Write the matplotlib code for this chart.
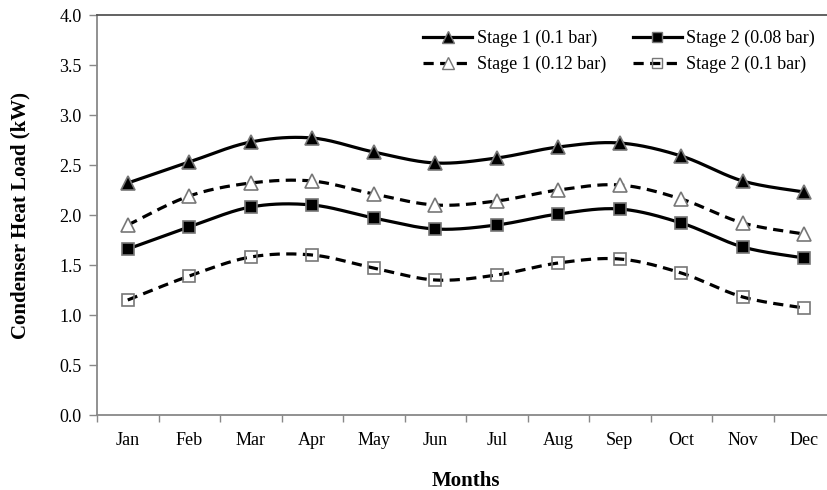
import numpy as np
import matplotlib
matplotlib.use("Agg")
import matplotlib.pyplot as plt

months = ["Jan", "Feb", "Mar", "Apr", "May", "Jun", "Jul", "Aug", "Sep", "Oct", "Nov", "Dec"]
stage1_01 = [2.32, 2.53, 2.73, 2.77, 2.63, 2.52, 2.57, 2.68, 2.72, 2.59, 2.34, 2.23]
stage1_012 = [1.90, 2.19, 2.32, 2.34, 2.21, 2.10, 2.14, 2.25, 2.30, 2.16, 1.92, 1.81]
stage2_008 = [1.66, 1.88, 2.08, 2.10, 1.97, 1.86, 1.90, 2.01, 2.06, 1.92, 1.68, 1.57]
stage2_01 = [1.15, 1.39, 1.58, 1.60, 1.47, 1.35, 1.40, 1.52, 1.56, 1.42, 1.18, 1.07]

plt.rcParams['font.family'] = ['Liberation Serif', 'DejaVu Serif']


def smooth(x, y, n=30):
    x = np.asarray(x, float)
    y = np.asarray(y, float)
    P = np.column_stack([x, y])
    Pe = np.vstack([P[0], P, P[-1]])
    out = []
    t = np.linspace(0, 1, n)[:, None]
    for i in range(1, len(Pe) - 2):
        p0, p1, p2, p3 = Pe[i - 1], Pe[i], Pe[i + 1], Pe[i + 2]
        c1 = p1 + (p2 - p0) / 6.0
        c2 = p2 - (p3 - p1) / 6.0
        seg = ((1 - t) ** 3) * p1 + 3 * ((1 - t) ** 2) * t * c1 + 3 * (1 - t) * t ** 2 * c2 + t ** 3 * p2
        out.append(seg if i == 1 else seg[1:])
    out = np.vstack(out)
    return out[:, 0], out[:, 1]


fig = plt.figure(figsize=(8.27, 4.90), dpi=100)
ax = fig.add_axes([97 / 827, 1 - 415 / 490, (835 - 97) / 827, 400 / 490])

x = np.arange(len(months))
series = [
    ("Stage 1 (0.1 bar)", stage1_01, '-', '^', 'black', 10),
    ("Stage 1 (0.12 bar)", stage1_012, (0, (3.2, 2.0)), '^', 'white', 10),
    ("Stage 2 (0.08 bar)", stage2_008, '-', 's', 'black', 8.5),
    ("Stage 2 (0.1 bar)", stage2_01, (0, (3.2, 2.0)), 's', 'none', 8.5),
]
handles = []
for label, vals, ls, mk, fc, ms in series:
    sx, sy = smooth(x, vals)
    ax.plot(sx, sy, color='black', lw=2.3, linestyle=ls, zorder=2, solid_capstyle='butt')
    ax.plot(x, vals, linestyle='none', marker=mk, markersize=ms, markerfacecolor=fc,
            markeredgecolor='#777777', markeredgewidth=1.2, zorder=3)
    h, = ax.plot([], [], color='black', lw=2.3, linestyle=ls, marker=mk, markersize=ms - 1.5,
                 markerfacecolor=fc, markeredgecolor='#777777', markeredgewidth=1.0)
    handles.append((h, label))

ax.set_xlim(-0.5, 11.5)
ax.set_ylim(0, 4.0)
ax.set_yticks(np.arange(0, 4.01, 0.5))
ax.set_yticklabels([f"{v:.1f}" for v in np.arange(0, 4.01, 0.5)])
ax.set_xticks(x)
ax.set_xticklabels(months)
ax.set_xticks(np.arange(-0.5, 11.6, 1.0), minor=True)
ax.tick_params(axis='x', which='major', length=0, pad=12, labelsize=13)
ax.tick_params(axis='x', which='minor', length=5, color='#888888', width=1)
ax.tick_params(axis='y', length=6, color='#888888', width=1, labelsize=13, pad=5)

for s in ['left', 'bottom']:
    ax.spines[s].set_color('#888888')
    ax.spines[s].set_linewidth(1.3)
ax.spines['top'].set_color('#555555')
ax.spines['top'].set_linewidth(1.3)
ax.spines['right'].set_visible(False)

ax.set_ylabel("Condenser Heat Load (kW)", fontsize=15, fontweight='bold', labelpad=21)
ax.set_xlabel("Months", fontsize=15, fontweight='bold', labelpad=16)

leg = ax.legend([h for h, _ in handles], [l for _, l in handles], ncol=2, frameon=False,
                loc='upper left', bbox_to_anchor=(0.425, 0.995), fontsize=13,
                handlelength=2.7, numpoints=1, columnspacing=1.5, handletextpad=0.25,
                labelspacing=0.5, borderaxespad=0.3)

fig.savefig("out.png", dpi=100)
